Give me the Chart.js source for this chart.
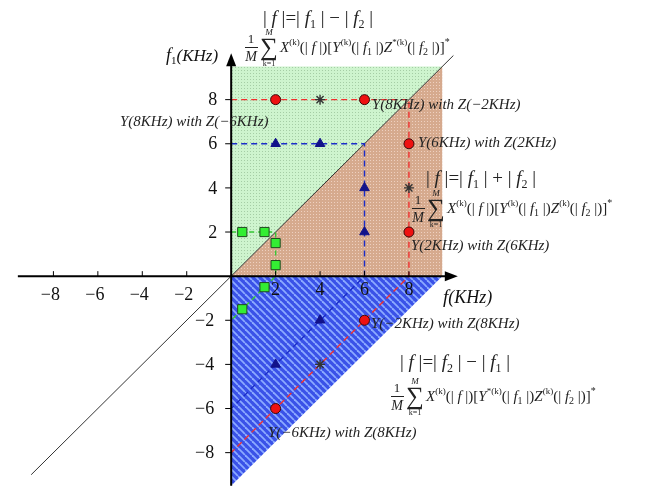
<!DOCTYPE html>
<html>
<head>
<meta charset="utf-8">
<script src="https://cdn.jsdelivr.net/npm/chart.js@4.4.1/dist/chart.umd.min.js"></script>
<style>
  body { margin: 0; background: #fff; }
  canvas { display: block; }
</style>
</head>
<body>
<canvas id="chart" width="645" height="497"></canvas>
<script>
// tick values on both axes
const xTicks = [-8, -6, -4, -2, 2, 4, 6, 8];
const yTicks = [-8, -6, -4, -2, 2, 4, 6, 8];

// red circles
const circleX = [2, 6, 8, 8, 6, 2];
const circleY = [8, 8, 6, 2, -2, -6];
// asterisks
const starX = [4, 8, 4];
const starY = [8, 4, -4];
// blue triangles
const triX = [2, 4, 6, 6, 4, 2];
const triY = [6, 6, 4, 2, -2, -4];
// green squares
const squareX = [0.5, 1.5, 2, 2, 1.5, 0.5];
const squareY = [2, 2, 1.5, 0.5, -0.5, -1.5];

// dashed guide paths
const redPathX = [0, 8, 8, 0];
const redPathY = [8, 8, 0, -8];
const bluePathX = [0, 6, 6, 0];
const bluePathY = [6, 6, 0, -6];
const greenPathX = [0, 2, 2, 0];
const greenPathY = [2, 2, 0, -2];

// f1 = f2 line
const diagX = [-9, 10];
const diagY = [-9, 10];

const toPts = (xs, ys) => xs.map((x, i) => ({ x: x, y: ys[i] }));

const SERIF = '"Liberation Serif", "Times New Roman", serif';

function makePattern(size, draw) {
  const c = document.createElement('canvas');
  c.width = size;
  c.height = size;
  draw(c.getContext('2d'), size);
  return c;
}

function rich(ctx, x, y, parts) {
  parts.forEach(p => {
    ctx.font = (p[3] ? 'italic ' : '') + p[1] + 'px ' + SERIF;
    ctx.fillText(p[0], x, y + p[2]);
    x += ctx.measureText(p[0]).width;
  });
  return x;
}

function drawSum(ctx, x, y, ySup, zSup) {
  ctx.textAlign = 'center';
  ctx.font = '13px ' + SERIF;
  ctx.fillText('1', x + 6, y - 9);
  ctx.font = 'italic 14px ' + SERIF;
  ctx.fillText('M', x + 6, y + 9);
  ctx.fillRect(x, y - 5, 13, 1);
  ctx.font = '25px ' + SERIF;
  ctx.fillText('\u2211', x + 24, y + 3);
  ctx.font = 'italic 9px ' + SERIF;
  ctx.fillText('M', x + 24, y - 17);
  ctx.font = '8px ' + SERIF;
  ctx.fillText('k=1', x + 24, y + 14);
  ctx.textAlign = 'left';
  rich(ctx, x + 35, y, [
    ['X', 15, 0, true], ['(k)', 9, -7], ['(| ', 15, 0], ['f', 15, 0, true], [' |)[', 15, 0],
    ['Y', 15, 0, true], [ySup, 9, -7], ['(| ', 15, 0], ['f', 15, 0, true], ['1', 10, 3], [' |)', 15, 0],
    ['Z', 15, 0, true], [zSup, 9, -7], ['(| ', 15, 0], ['f', 15, 0, true], ['2', 10, 3], [' |)]', 15, 0],
    ['*', 10, -7]
  ]);
}

const backdrop = {
  id: 'backdrop',
  beforeDatasetsDraw(chart) {
    const ctx = chart.ctx;
    const sx = chart.scales.x, sy = chart.scales.y;
    const px = v => sx.getPixelForValue(v);
    const py = v => sy.getPixelForValue(v);
    const lim = 9.5;

    const green = ctx.createPattern(makePattern(3, (g, s) => {
      g.fillStyle = 'rgb(206,244,206)'; g.fillRect(0, 0, s, s);
      g.fillStyle = 'rgb(165,205,165)'; g.fillRect(1, 1, 1, 1);
    }), 'repeat');
    const brown = ctx.createPattern(makePattern(3, (g, s) => {
      g.fillStyle = 'rgb(214,170,142)'; g.fillRect(0, 0, s, s);
      g.fillStyle = 'rgb(238,208,192)'; g.fillRect(1, 1, 1, 1);
    }), 'repeat');
    const blue = ctx.createPattern(makePattern(7, (g, s) => {
      g.fillStyle = 'rgb(58,82,232)'; g.fillRect(0, 0, s, s);
      g.strokeStyle = 'rgb(140,170,255)'; g.lineWidth = 1.8;
      for (let k = -1; k <= 1; k++) {
        g.beginPath(); g.moveTo(k * s, 0); g.lineTo(k * s + s, s); g.stroke();
      }
    }), 'repeat');

    const poly = (pts, fill) => {
      ctx.beginPath();
      pts.forEach((p, i) => i ? ctx.lineTo(px(p[0]), py(p[1])) : ctx.moveTo(px(p[0]), py(p[1])));
      ctx.closePath();
      ctx.fillStyle = fill;
      ctx.fill();
    };
    ctx.save();
    poly([[0, 0], [0, lim], [lim, lim]], green);
    poly([[0, 0], [lim, lim], [lim, 0]], brown);
    poly([[0, 0], [lim, 0], [0, -lim]], blue);
    ctx.restore();
  },
  afterDatasetsDraw(chart) {
    const ctx = chart.ctx;
    const sx = chart.scales.x, sy = chart.scales.y;
    const px = v => sx.getPixelForValue(v);
    const py = v => sy.getPixelForValue(v);
    const ox = px(0), oy = py(0);

    ctx.save();
    // axes
    ctx.strokeStyle = '#000';
    ctx.fillStyle = '#000';
    ctx.lineWidth = 2;
    ctx.beginPath();
    ctx.moveTo(px(-9.6), oy); ctx.lineTo(px(10.0), oy);
    ctx.moveTo(ox, py(-9.5)); ctx.lineTo(ox, py(9.9));
    ctx.stroke();
    ctx.beginPath();
    ctx.moveTo(px(10.2), oy); ctx.lineTo(px(10.2) - 13, oy - 5); ctx.lineTo(px(10.2) - 13, oy + 5);
    ctx.closePath(); ctx.fill();
    ctx.beginPath();
    ctx.moveTo(ox, py(10.1)); ctx.lineTo(ox - 5, py(10.1) + 13); ctx.lineTo(ox + 5, py(10.1) + 13);
    ctx.closePath(); ctx.fill();

    // ticks
    ctx.lineWidth = 1;
    ctx.beginPath();
    xTicks.forEach(v => { ctx.moveTo(px(v), oy); ctx.lineTo(px(v), oy - 5); });
    yTicks.forEach(v => { ctx.moveTo(ox, py(v)); ctx.lineTo(ox - 6, py(v)); });
    ctx.stroke();

    const lab = v => (v < 0 ? '\u2212' : '') + Math.abs(v);
    ctx.fillStyle = '#111';
    ctx.font = '18px ' + SERIF;
    ctx.textAlign = 'center';
    ctx.textBaseline = 'alphabetic';
    xTicks.forEach(v => ctx.fillText(lab(v), px(v) + (v < 0 ? -3 : 0), oy + (v < 0 ? 24 : 19)));
    ctx.textAlign = 'right';
    ctx.textBaseline = 'middle';
    yTicks.forEach(v => ctx.fillText(lab(v), v < 0 ? ox - 17 : ox - 14, py(v) + 1));

    // axis titles
    ctx.textBaseline = 'alphabetic';
    ctx.textAlign = 'left';
    rich(ctx, 443, 303, [['f', 19, 0, true], ['(KHz)', 18, 0, true]]);
    rich(ctx, 166, 61, [['f', 18, 0, true], ['1', 11, 3], ['(KHz)', 17, 0, true]]);

    // point notes
    ctx.fillStyle = '#222';
    ctx.font = 'italic 15px ' + SERIF;
    ctx.fillText('Y(8KHz) with Z(\u22126KHz)', 120, 126);
    ctx.fillText('Y(8KHz) with Z(\u22122KHz)', 372, 109);
    ctx.fillText('Y(6KHz) with Z(2KHz)', 418, 147);
    ctx.fillText('Y(2KHz) with Z(6KHz)', 411, 250);
    ctx.fillText('Y(\u22122KHz) with Z(8KHz)', 371, 328);
    ctx.fillText('Y(\u22126KHz) with Z(8KHz)', 268, 437);

    // region formulas
    const rel = (x0, y0, a, b, op) => rich(ctx, x0, y0, [
      ['| ', 19, 0], ['f', 19, 0, true], [' |=| ', 19, 0], ['f', 19, 0, true], [a, 12, 4],
      [' | ' + op + ' | ', 19, 0], ['f', 19, 0, true], [b, 12, 4], [' |', 19, 0]
    ]);
    rel(263, 24, '1', '2', '\u2212');
    drawSum(ctx, 245, 52, '(k)', '*(k)');
    rel(426, 184, '1', '2', '+');
    drawSum(ctx, 412, 213, '(k)', '(k)');
    rel(400, 368, '2', '1', '\u2212');
    drawSum(ctx, 391, 401, '*(k)', '(k)');
    ctx.restore();
  }
};

new Chart(document.getElementById('chart'), {
  type: 'scatter',
  data: {
    datasets: [
      {
        data: toPts(circleX, circleY), pointStyle: 'circle', pointRadius: 5,
        backgroundColor: '#ee1111', borderColor: '#3a0a0a', borderWidth: 1, order: 1
      },
      {
        data: toPts(triX, triY), pointStyle: 'triangle', pointRadius: 5.5,
        backgroundColor: '#12128a', borderColor: '#12128a', borderWidth: 1, order: 1
      },
      {
        data: toPts(squareX, squareY), pointStyle: 'rect', pointRadius: 6.5,
        backgroundColor: '#33ee33', borderColor: '#1f4a1f', borderWidth: 1, order: 1
      },
      {
        data: toPts(starX, starY), pointStyle: 'star', pointRadius: 5,
        backgroundColor: '#333', borderColor: '#333', borderWidth: 1.4, order: 1
      },
      {
        data: toPts(redPathX, redPathY), showLine: true, pointRadius: 0,
        borderColor: '#f03030', borderWidth: 1.4, borderDash: [6, 4], order: 2
      },
      {
        data: toPts(bluePathX, bluePathY), showLine: true, pointRadius: 0,
        borderColor: '#1a2cc8', borderWidth: 1.4, borderDash: [6, 4], order: 2
      },
      {
        data: toPts(greenPathX, greenPathY), showLine: true, pointRadius: 0,
        borderColor: '#36c836', borderWidth: 1.4, borderDash: [5, 4], order: 2
      },
      {
        data: toPts(diagX, diagY), showLine: true, pointRadius: 0,
        borderColor: '#333', borderWidth: 1, order: 3
      }
    ]
  },
  options: {
    responsive: false,
    animation: false,
    layout: { padding: 0 },
    plugins: { legend: { display: false }, tooltip: { enabled: false } },
    scales: {
      x: { display: false, min: -10.066, max: 18.286 },
      y: { display: false, min: -9.67, max: 12.176 }
    }
  },
  plugins: [backdrop]
});
</script>
</body>
</html>
